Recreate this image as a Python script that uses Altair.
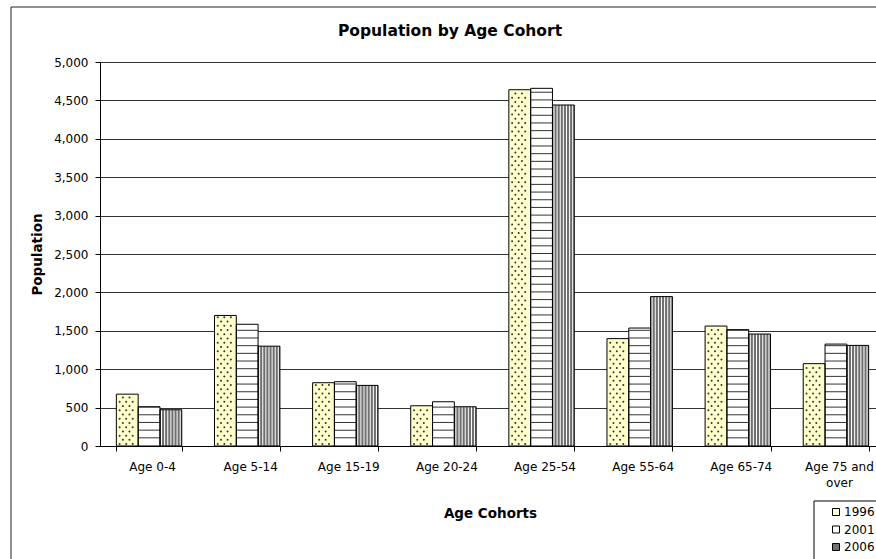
import altair as alt
import pandas as pd

# Population counts by age cohort for three census years
cohorts = ["Age 0-4", "Age 5-14", "Age 15-19", "Age 20-24", "Age 25-54",
           "Age 55-64", "Age 65-74", "Age 75 and over"]
years = ["1996", "2001", "2006"]
pop_1996 = [675, 1700, 824, 524, 4639, 1398, 1562, 1072]
pop_2001 = [511, 1585, 837, 576, 4657, 1536, 1515, 1327]
pop_2006 = [472, 1300, 789, 511, 4440, 1945, 1458, 1310]
y_ticks = list(range(0, 5001, 500))

rows = []
for year, series in zip(years, [pop_1996, pop_2001, pop_2006]):
    for cohort, value in zip(cohorts, series):
        rows.append({"cohort": cohort, "year": year, "value": value})
df = pd.DataFrame(rows)

FONT = "DejaVu Sans"
SLOTS = list(range(21))  # fine sub-columns across each cohort group, used for fill patterns

x_axis = alt.Axis(
    title="Age Cohorts", titleFont=FONT, titleFontSize=13.5, titleFontWeight="bold",
    titleColor="#000", titleX=390, titleY=67, titleBaseline="middle",
    labelFont=FONT, labelFontSize=12, labelColor="#000", labelAngle=0,
    labelPadding=10, labelOffset=3, labelLineHeight=16,
    labelExpr="datum.label == 'Age 75 and over' ? ['Age 75 and', 'over'] : datum.label",
    tickBand="extent", tickSize=5, tickColor="#000", domainColor="#000",
    grid=False,
)
y_axis = alt.Axis(
    values=y_ticks, format=",.0f", title="Population",
    titleFont=FONT, titleFontSize=13.5, titleFontWeight="bold", titleColor="#000",
    titleX=-63, titleY=192, titleAlign="center", titleBaseline="middle",
    labelFont=FONT, labelFontSize=12, labelColor="#000", labelPadding=7,
    tickSize=5, tickColor="#000", domainColor="#000",
    grid=True, gridColor="#333", gridWidth=1,
)
x_scale = alt.Scale(paddingInner=1 / 3, paddingOuter=1 / 6, range=[0, 785])
y_scale = alt.Scale(domain=[0, 5000])

x_enc = alt.X("cohort:N", sort=cohorts, scale=x_scale, axis=x_axis)


def y_enc(field):
    return alt.Y(field, type="quantitative", scale=y_scale, axis=y_axis)


year_offset = alt.XOffset("year:N", sort=years, scale=alt.Scale(domain=years))
slot_offset = alt.XOffset("slot:O", scale=alt.Scale(domain=SLOTS, paddingInner=0, paddingOuter=0))

# Outer chart frame and legend box
frame = alt.Chart(alt.Data(values=[{}])).mark_rect(
    fillOpacity=0, stroke="#222", strokeWidth=1
).encode(
    x=alt.value(-89), x2=alt.value(900), y=alt.value(-55), y2=alt.value(620)
)
legend_box = alt.Chart(alt.Data(values=[{}])).mark_rect(
    fill="#FFFFFF", stroke="#000", strokeWidth=1
).encode(
    x=alt.value(714), x2=alt.value(800), y=alt.value(439), y2=alt.value(560)
)

# Base bar fills (and the legend)
bars = alt.Chart(df).mark_bar().encode(
    x=x_enc,
    xOffset=year_offset,
    y=y_enc("value"),
    fill=alt.Fill(
        "year:N", sort=years,
        scale=alt.Scale(domain=years, range=["#FFFFCC", "#FFFFFF", "#707070"]),
        legend=alt.Legend(
            title=None, orient="none", legendX=730, legendY=444, direction="vertical",
            padding=0, symbolType="square", symbolSize=49, symbolStrokeColor="#000",
            symbolStrokeWidth=1, symbolOffset=0,
            labelFont=FONT, labelFontSize=12, labelColor="#000", labelOffset=2,
            rowPadding=5.5,
        ),
    ),
)

# 1996: dotted fill
dots = alt.Chart(df).transform_filter(
    alt.datum.year == "1996"
).transform_calculate(
    r="sequence(0, floor((datum.value - 30) / 55) + 1)"
).transform_flatten(["r"]).transform_calculate(
    yy="25 + datum.r * 55",
    slot="datum.r % 2 == 0 ? [1, 3, 5] : [2, 4]",
).transform_flatten(["slot"]).mark_circle(size=4, color="#333", opacity=1).encode(
    x=x_enc, xOffset=slot_offset, y=y_enc("yy"),
)

# 2001: horizontal lines
hlines = alt.Chart(df).transform_filter(
    alt.datum.year == "2001"
).transform_calculate(
    s="sequence(100, datum.value, 100)"
).transform_flatten(["s"]).transform_calculate(
    s2="datum.s + 13"
).mark_bar(color="#333").encode(
    x=x_enc, xOffset=year_offset, y=y_enc("s"), y2="s2:Q",
)

# 2006: vertical stripes
vlines = alt.Chart(df).transform_filter(
    alt.datum.year == "2006"
).transform_calculate(
    slot="[14, 15, 16, 17, 18, 19, 20]"
).transform_flatten(["slot"]).mark_rule(color="#FFFFFF", strokeWidth=1).encode(
    x=x_enc, xOffset=slot_offset, y=y_enc("value"), y2=alt.datum(0),
)

# Bar outlines on top of the patterns
outlines = alt.Chart(df).mark_bar(fillOpacity=0, stroke="#000", strokeWidth=1).encode(
    x=x_enc, xOffset=year_offset, y=y_enc("value"),
)

chart = alt.layer(frame, legend_box, bars, dots, hlines, vlines, outlines).resolve_scale(
    xOffset="independent"
).properties(
    width=776,
    height=384,
    autosize="none",
    padding={"left": 100, "top": 62, "right": 0, "bottom": 113},
    background="#FFFFFF",
    title=alt.TitleParams(
        "Population by Age Cohort", font=FONT, fontSize=15.5, fontWeight="bold",
        color="#000", anchor="middle", frame="group", dx=-38, dy=33, offset=0,
    ),
).configure_view(strokeWidth=0)

chart.save("out.html", embed_options={"renderer": "svg", "actions": False})
